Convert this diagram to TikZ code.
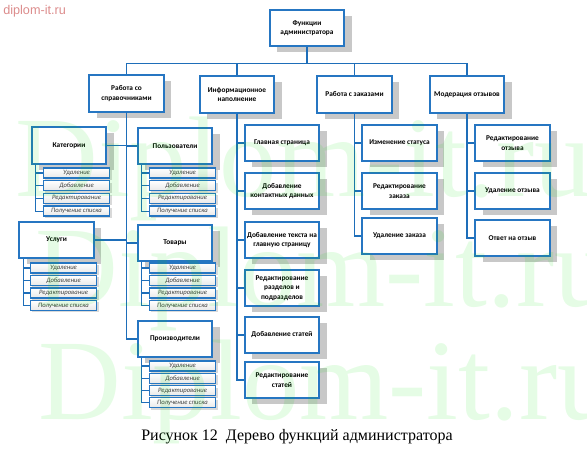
\documentclass[tikz,border=0pt]{standalone}
\usepackage{fontspec}
\usepackage{xcolor}
\usepackage{tikz}
\usetikzlibrary{shadows,calc,positioning}
\newfontfamily\boxfont{Carlito}
\newfontfamily\capfont{Liberation Serif}
\newfontfamily\markfont{Liberation Sans}
\definecolor{boxblue}{RGB}{38,118,194}
\definecolor{linkblue}{RGB}{30,110,185}
\definecolor{shadowgray}{RGB}{200,200,200}
\definecolor{markgreen}{RGB}{0,225,0}
\definecolor{markpink}{RGB}{220,140,140}

\begin{document}
\begin{tikzpicture}[x=0.75pt,y=0.75pt,yscale=-1,xscale=1,
  funcbox/.style={draw=boxblue, line width=1.4pt, fill=white, minimum width=56pt, minimum height=27.5pt, inner sep=1pt, align=center, font=\boxfont\bfseries\fontsize{5.5}{7}\selectfont, drop shadow={shadow xshift=5.5pt, shadow yshift=-4.5pt, fill=shadowgray, opacity=1}},
  itembox/.style={draw=boxblue, line width=0.9pt, top color=white, bottom color=gray!18, minimum width=50pt, minimum height=7.5pt, inner sep=0pt, font=\boxfont\itshape\fontsize{5}{5}\selectfont, text=black!75, drop shadow={shadow xshift=1.5pt, shadow yshift=-1.5pt, fill=shadowgray!70, opacity=1}},
  link/.style={draw=linkblue, line width=0.8pt}]
  \useasboundingbox (0,0) rectangle (587,456); %set diagram left start at 0, and has height of 456

    % Root
    \node[funcbox] (root) at (307,28) {Функции\\администратора};

    % Level 1
    \node[funcbox] (sprav) at (126.5,93.5) {Работа со\\справочниками};
    \node[funcbox] (info) at (237,94.5) {Информационное\\наполнение};
    \node[funcbox] (zakaz) at (354.5,94.5) {Работа с заказами};
    \node[funcbox] (moder) at (467,94.5) {Модерация отзывов};
    \draw[link] (root.south) -- ++(0,16) -| (sprav.north);
    \draw[link] (root.south) -- ++(0,16) -| (info.north);
    \draw[link] (root.south) -- ++(0,16) -| (zakaz.north);
    \draw[link] (root.south) -- ++(0,16) -| (moder.north);

    % Справочники
    \node[funcbox] (kat) at (69,145.5) {Категории};
    \node[funcbox] (polz) at (175,146) {Пользователи};
    \node[funcbox] (usl) at (56.5,240) {Услуги};
    \node[funcbox] (tov) at (175,243) {Товары};
    \node[funcbox] (proizv) at (175,339) {Производители};
    \draw[link] (sprav.south) |- (kat.east);
    \draw[link] (sprav.south) |- (polz.west);
    \draw[link] (sprav.south) |- (usl.east);
    \draw[link] (sprav.south) |- (tov.west);
    \draw[link] (sprav.south) |- (proizv.west);

    % Категории
    \node[itembox] (kat1) at (76.5,173) {Удаление};
    \node[itembox] (kat2) at (76.5,185.7) {Добавление};
    \node[itembox] (kat3) at (76.5,198.4) {Редактирование};
    \node[itembox] (kat4) at (76.5,211.1) {Получение списка};
    \draw[link] ($(kat.south west)+(5,0)$) |- (kat1.west);
    \draw[link] ($(kat.south west)+(5,0)$) |- (kat2.west);
    \draw[link] ($(kat.south west)+(5,0)$) |- (kat3.west);
    \draw[link] ($(kat.south west)+(5,0)$) |- (kat4.west);

    % Пользователи
    \node[itembox] (polz1) at (182.5,173) {Удаление};
    \node[itembox] (polz2) at (182.5,185.7) {Добавление};
    \node[itembox] (polz3) at (182.5,198.4) {Редактирование};
    \node[itembox] (polz4) at (182.5,211.1) {Получение списка};
    \draw[link] ($(polz.south west)+(5,0)$) |- (polz1.west);
    \draw[link] ($(polz.south west)+(5,0)$) |- (polz2.west);
    \draw[link] ($(polz.south west)+(5,0)$) |- (polz3.west);
    \draw[link] ($(polz.south west)+(5,0)$) |- (polz4.west);

    % Услуги
    \node[itembox] (usl1) at (63.5,268) {Удаление};
    \node[itembox] (usl2) at (63.5,280.5) {Добавление};
    \node[itembox] (usl3) at (63.5,293) {Редактирование};
    \node[itembox] (usl4) at (63.5,305.5) {Получение списка};
    \draw[link] ($(usl.south west)+(5,0)$) |- (usl1.west);
    \draw[link] ($(usl.south west)+(5,0)$) |- (usl2.west);
    \draw[link] ($(usl.south west)+(5,0)$) |- (usl3.west);
    \draw[link] ($(usl.south west)+(5,0)$) |- (usl4.west);

    % Товары
    \node[itembox] (tov1) at (182.5,268) {Удаление};
    \node[itembox] (tov2) at (182.5,280.5) {Добавление};
    \node[itembox] (tov3) at (182.5,293) {Редактирование};
    \node[itembox] (tov4) at (182.5,305.5) {Получение списка};
    \draw[link] ($(tov.south west)+(5,0)$) |- (tov1.west);
    \draw[link] ($(tov.south west)+(5,0)$) |- (tov2.west);
    \draw[link] ($(tov.south west)+(5,0)$) |- (tov3.west);
    \draw[link] ($(tov.south west)+(5,0)$) |- (tov4.west);

    % Производители
    \node[itembox] (proizv1) at (182.5,366) {Удаление};
    \node[itembox] (proizv2) at (182.5,378.3) {Добавление};
    \node[itembox] (proizv3) at (182.5,390.6) {Редактирование};
    \node[itembox] (proizv4) at (182.5,402.9) {Получение списка};
    \draw[link] ($(proizv.south west)+(5,0)$) |- (proizv1.west);
    \draw[link] ($(proizv.south west)+(5,0)$) |- (proizv2.west);
    \draw[link] ($(proizv.south west)+(5,0)$) |- (proizv3.west);
    \draw[link] ($(proizv.south west)+(5,0)$) |- (proizv4.west);

    % Информационное наполнение
    \node[funcbox] (glav) at (282,143) {Главная страница};
    \node[funcbox] (kont) at (282,191) {Добавление\\контактных данных};
    \node[funcbox] (tekst) at (282,240) {Добавление текста на\\главную страницу};
    \node[funcbox] (razd) at (282,288) {Редактирование\\разделов и\\подразделов};
    \node[funcbox] (stat) at (282,335) {Добавление статей};
    \node[funcbox] (redstat) at (282,380) {Редактирование\\статей};
    \draw[link] (info.south) |- (glav.west);
    \draw[link] (info.south) |- (kont.west);
    \draw[link] (info.south) |- (tekst.west);
    \draw[link] (info.south) |- (razd.west);
    \draw[link] (info.south) |- (stat.west);
    \draw[link] (info.south) |- (redstat.west);

    % Заказы
    \node[funcbox] (izm) at (399.5,143) {Изменение статуса};
    \node[funcbox] (redz) at (399.5,191) {Редактирование\\заказа};
    \node[funcbox] (udz) at (399.5,236) {Удаление заказа};
    \draw[link] (zakaz.south) |- (izm.west);
    \draw[link] (zakaz.south) |- (redz.west);
    \draw[link] (zakaz.south) |- (udz.west);

    % Отзывы
    \node[funcbox] (redo) at (512.5,143) {Редактирование\\отзыва};
    \node[funcbox] (udo) at (512.5,191) {Удаление отзыва};
    \node[funcbox] (otv) at (512.5,238) {Ответ на отзыв};
    \draw[link] (moder.south) |- (redo.west);
    \draw[link] (moder.south) |- (udo.west);
    \draw[link] (moder.south) |- (otv.west);

    % Text Node
    \node[font=\capfont\fontsize{12}{14}\selectfont] (cap) at (297,437) {Рисунок 12\ \ Дерево функций администратора};

    % Watermark
    \node[font=\markfont\fontsize{9.5}{11}\selectfont, text=markpink, anchor=west, inner sep=0pt] (site) at (3,11) {diplom-it.ru};
    \node[font=\capfont\fontsize{86}{86}\selectfont, text=markgreen, opacity=0.1, anchor=base west, inner sep=0pt] (wm1) at (15,197) {Diplom-it.ru};
    \node[font=\capfont\fontsize{86}{86}\selectfont, text=markgreen, opacity=0.1, anchor=base west, inner sep=0pt] (wm2) at (35,307) {Diplom-it.ru};
    \node[font=\capfont\fontsize{86}{86}\selectfont, text=markgreen, opacity=0.1, anchor=base west, inner sep=0pt] (wm3) at (38,420) {Diplom-it.ru};

  \end{tikzpicture}
\end{document}
